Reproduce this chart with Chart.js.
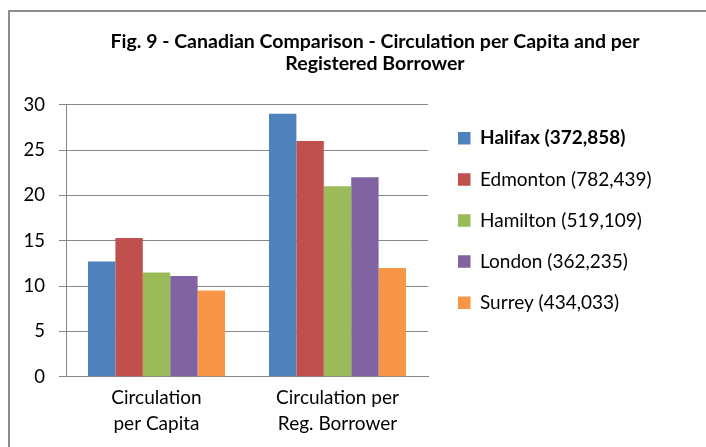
<!DOCTYPE html>
<html><head><meta charset="utf-8">
<script src="https://cdn.jsdelivr.net/npm/chart.js@4"></script>
<style>
html,body{margin:0;padding:0;background:#fff;overflow:hidden;width:706px;height:447px;}
#frame{position:absolute;left:8px;top:10px;width:760px;height:460px;border-left:2px solid #8c8c8c;border-top:2px solid #8c8c8c;}
#wrap{position:absolute;left:0;top:0;width:730px;height:435px;}
</style></head><body>
<div id="frame"><div id="wrap"><canvas id="c" width="730" height="435"></canvas></div></div>
<script>
// ---- data ----
const categories = [["Circulation", "per Capita"], ["Circulation per", "Reg. Borrower"]];
const seriesNames = ["Halifax (372,858)", "Edmonton (782,439)", "Hamilton (519,109)", "London (362,235)", "Surrey (434,033)"];
const halifax  = [12.7, 29];
const edmonton = [15.3, 26];
const hamilton = [11.5, 21];
const london   = [11.1, 22];
const surrey   = [9.5, 12];
const yTicks = [0, 5, 10, 15, 20, 25, 30];
const titleLines = ["Fig. 9 - Canadian Comparison - Circulation per Capita and per", "Registered Borrower"];

// ---- styles ----
const seriesColors = ["#4F81BD", "#C0504D", "#9BBB59", "#8064A2", "#F79646"];
const FONT = "Lato, 'Open Sans', sans-serif";
const GRID = "#878787";
const LEG_FS = 19, LEG_BOX = 12.5, LEG_PAD = 22.1;
const LEG_BOX_X = 448, LEG_FIRST_Y = 126.3;

const values = [halifax, edmonton, hamilton, london, surrey];

const legendPlace = {
  id: 'legendPlace',
  afterLayout(chart) {
    const lg = chart.legend;
    if (!lg) return;
    lg.left = LEG_BOX_X - LEG_PAD;
    lg.right = lg.left + 280;
    lg.top = LEG_FIRST_Y - LEG_FS / 2 - LEG_PAD;
    lg.bottom = lg.top + 260;
    lg.width = lg.right - lg.left;
    lg.height = lg.bottom - lg.top;
  },
  afterDraw(chart) {
    const lg = chart.legend;
    if (!lg) return;
    const ctx = chart.ctx;
    ctx.save();
    ctx.font = "bold " + LEG_FS + "px " + FONT;
    ctx.fillStyle = "#000";
    ctx.textAlign = "left";
    ctx.textBaseline = "middle";
    const x = lg.left + LEG_PAD + LEG_BOX + LEG_FS / 2;
    const y = lg.top + LEG_PAD + LEG_FS / 2;
    ctx.fillText(seriesNames[0], x, y);
    ctx.restore();
  }
};

new Chart(document.getElementById('c'), {
  type: 'bar',
  data: {
    labels: categories,
    datasets: seriesNames.map((n, i) => ({
      label: n,
      data: values[i],
      backgroundColor: seriesColors[i],
      borderWidth: 0,
      barPercentage: 1,
      categoryPercentage: 0.757,
      yAxisID: 'y'
    }))
  },
  options: {
    responsive: false,
    animation: false,
    devicePixelRatio: 1,
    layout: { padding: 0 },
    plugins: {
      tooltip: { enabled: false },
      title: {
        display: true,
        text: titleLines,
        color: "#000",
        font: { family: FONT, size: 19.5, weight: "bold", lineHeight: 1.13 },
        padding: { top: 18.5, bottom: 30.2 }
      },
      legend: {
        position: 'chartArea',
        align: 'start',
        labels: {
          boxWidth: LEG_BOX,
          boxHeight: LEG_BOX,
          padding: LEG_PAD,
          color: "#000",
          font: { family: FONT, size: LEG_FS },
          generateLabels(chart) {
            return chart.data.datasets.map((d, i) => ({
              text: d.label,
              fillStyle: d.backgroundColor,
              strokeStyle: d.backgroundColor,
              lineWidth: 0,
              hidden: false,
              datasetIndex: i,
              fontColor: i === 0 ? "rgba(0,0,0,0)" : "#000"
            }));
          }
        }
      }
    },
    scales: {
      x: {
        grid: { display: false, drawTicks: false },
        border: { display: true, color: GRID, width: 1 },
        ticks: { color: "#000", padding: 8, maxRotation: 0, autoSkip: false,
                 font: { family: FONT, size: 19, lineHeight: 1.37 } },
        afterFit(s) { s.height = 70.3; }
      },
      y: {
        min: 0, max: 30,
        grid: { color: GRID, lineWidth: 1, tickLength: 7, drawTicks: true },
        border: { display: true, color: GRID, width: 1 },
        ticks: { color: "#000", padding: 14, stepSize: 5,
                 font: { family: FONT, size: 18.5 } },
        afterBuildTicks(s) { s.ticks = yTicks.map(v => ({ value: v })); },
        afterFit(s) { s.width = 56; }
      },
      legendSpace: {
        type: 'linear',
        position: 'right',
        display: true,
        grid: { display: false, drawTicks: false },
        border: { display: false },
        ticks: { display: false },
        afterFit(s) { s.width = 312; }
      }
    }
  },
  plugins: [legendPlace]
});
</script>
</body></html>
